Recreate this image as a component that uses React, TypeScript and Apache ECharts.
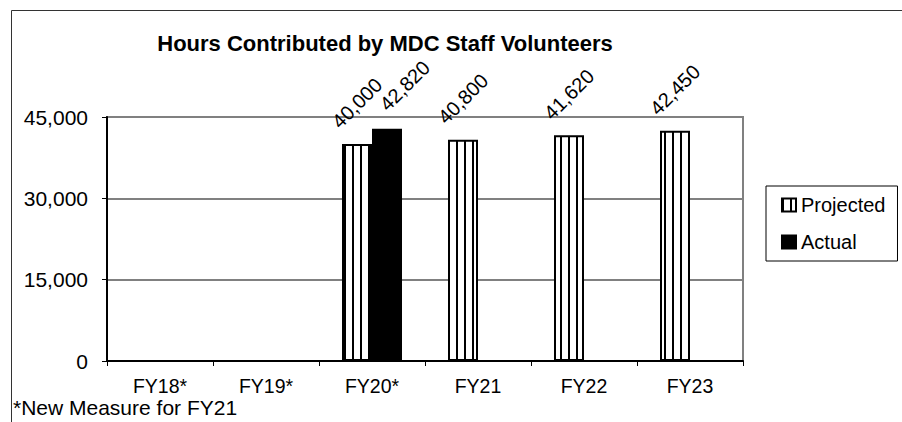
import React, { useEffect, useRef } from "react";
import * as echarts from "echarts";

const categories = ["FY18*", "FY19*", "FY20*", "FY21", "FY22", "FY23"];
const projected: (number | null)[] = [null, null, 40000, 40800, 41620, 42450];
const actual: (number | null)[] = [null, null, 42820, null, null, null];
const yTicks = { min: 0, max: 45000, interval: 15000 };
const titleText = "Hours Contributed by MDC Staff Volunteers";
const footnote = "*New Measure for FY21";

const FONT = "'Liberation Sans', Arial, sans-serif";

function makeStripe(): HTMLCanvasElement {
  const c = document.createElement("canvas");
  c.width = 8;
  c.height = 10;
  const ctx = c.getContext("2d")!;
  ctx.fillStyle = "#ffffff";
  ctx.fillRect(0, 0, 8, 10);
  ctx.fillStyle = "#000000";
  ctx.fillRect(0, 0, 2, 10);
  return c;
}

export default function App() {
  const ref = useRef<HTMLDivElement>(null);
  useEffect(() => {
    if (!ref.current) return;
    const chart = echarts.init(ref.current, null, { renderer: "svg" });
    const stripe = { image: makeStripe(), repeat: "repeat" } as any;
    const fmt = (p: any) =>
      p.value == null ? "" : Number(p.value).toLocaleString("en-US");
    const label = {
      show: true,
      position: "top",
      rotate: 45,
      align: "center",
      verticalAlign: "middle",
      distance: 41,
      formatter: fmt,
      color: "#000",
      fontSize: 20,
      fontFamily: FONT,
    };
    const actualData = actual.map((v) =>
      v == null ? null : { value: v, label: { offset: [14, 11] } }
    );
    chart.setOption({
      animation: false,
      backgroundColor: "#fff",
      title: {
        text: titleText,
        left: 380,
        top: 27,
        textAlign: "center",
        textStyle: { fontSize: 22, fontWeight: "bold", color: "#000", fontFamily: FONT },
      },
      legend: {
        orient: "vertical",
        left: 766,
        top: 186,
        padding: [9, 12, 9, 15],
        itemGap: 17,
        itemWidth: 14,
        itemHeight: 13,
        icon: "rect",
        borderColor: "#000",
        borderWidth: 1,
        borderRadius: 0,
        textStyle: { fontSize: 20, color: "#000", fontFamily: FONT },
        data: ["Projected", "Actual"],
      },
      grid: {
        left: 107,
        top: 117,
        right: 159,
        bottom: 61,
        show: true,
        borderColor: "#808080",
        borderWidth: 2,
      },
      xAxis: {
        type: "category",
        data: categories,
        axisLine: { lineStyle: { color: "#000", width: 2 } },
        axisTick: { show: true, length: 5, lineStyle: { color: "#000" } },
        axisLabel: { fontSize: 19.5, color: "#000", fontFamily: FONT, margin: 15 },
      },
      yAxis: {
        type: "value",
        min: yTicks.min,
        max: yTicks.max,
        interval: yTicks.interval,
        axisLine: { show: true, lineStyle: { color: "#000", width: 2 } },
        axisTick: { show: true, length: 5, lineStyle: { color: "#000" } },
        splitLine: { lineStyle: { color: "#808080", width: 2 } },
        axisLabel: {
          fontSize: 21,
          color: "#000",
          fontFamily: FONT,
          margin: 19,
          formatter: (v: number) => v.toLocaleString("en-US"),
        },
      },
      series: [
        {
          name: "Projected",
          type: "bar",
          data: projected,
          barWidth: 30,
          barGap: "0%",
          itemStyle: { color: stripe, borderColor: "#000", borderWidth: 2 },
          label,
        },
        {
          name: "Actual",
          type: "bar",
          data: actualData,
          barWidth: 30,
          barGap: "0%",
          itemStyle: { color: "#000", borderColor: "#000", borderWidth: 2 },
          label,
        },
      ],
      graphic: [
        {
          type: "rect",
          shape: { x: 11.5, y: 10.5, width: 1000, height: 1000 },
          style: { fill: "none", stroke: "#333", lineWidth: 1 },
          silent: true,
        },
        {
          type: "text",
          left: 13,
          top: 397,
          style: { text: footnote, fontSize: 21, fill: "#000", fontFamily: FONT },
        },
      ],
    });
    return () => chart.dispose();
  }, []);
  return (
    <div
      ref={ref}
      style={{ position: "fixed", left: 0, top: 0, width: 902, height: 422 }}
    />
  );
}
